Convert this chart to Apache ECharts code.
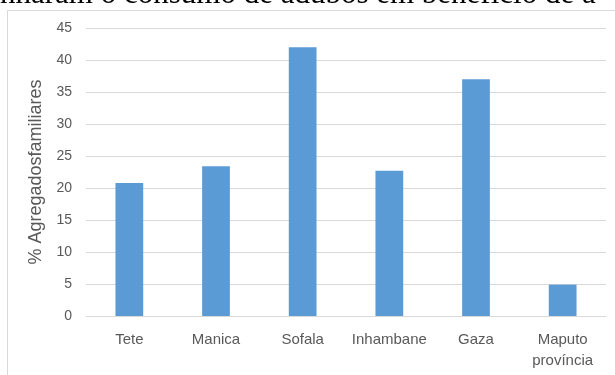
<!DOCTYPE html>
<html>
<head>
<meta charset="utf-8">
<style>
  html, body { margin: 0; padding: 0; background: #fff; }
  #chart { width: 615px; height: 375px; }
</style>
<script src="https://cdn.jsdelivr.net/npm/echarts@6/dist/echarts.min.js"></script>
</head>
<body>
<div id="chart"></div>
<script>
// Provinces and share of households (%)
const categories = ['Tete', 'Manica', 'Sofala', 'Inhambane', 'Gaza', 'Maputo\nprovíncia'];
const values = [20.8, 23.4, 42.0, 22.7, 37.0, 4.9];
const yTicks = { min: 0, max: 45, interval: 5 };
const yName = '% Agregadosfamiliares';
const headerText = 'nharam o consumo de adubos em benefício de a';

const textColor = '#595959';
const gridColor = '#D9D9D9';
const barColor = '#5B9BD5';

const chart = echarts.init(document.getElementById('chart'), null, { renderer: 'canvas' });

chart.setOption({
  animation: false,
  backgroundColor: '#ffffff',
  graphic: [
    {
      type: 'text',
      left: 0,
      top: -21,
      z: 10,
      style: {
        text: headerText,
        font: '31px "Liberation Serif", serif',
        fill: '#000000'
      }
    },
    {
      type: 'rect',
      shape: { x: 7.5, y: 10.5, width: 700, height: 500 },
      style: { fill: 'none', stroke: gridColor, lineWidth: 1 },
      silent: true
    }
  ],
  grid: { left: 86, right: 9, top: 28, bottom: 59, containLabel: false },
  xAxis: {
    type: 'category',
    data: categories,
    axisLine: { show: true, lineStyle: { color: gridColor, width: 1 } },
    axisTick: { show: false },
    axisLabel: {
      color: textColor,
      fontFamily: '"Liberation Sans", Arial, sans-serif',
      fontSize: 15,
      lineHeight: 21,
      margin: 13,
      interval: 0
    }
  },
  yAxis: {
    type: 'value',
    min: yTicks.min,
    max: yTicks.max,
    interval: yTicks.interval,
    name: yName,
    nameLocation: 'middle',
    nameGap: 35,
    nameTextStyle: {
      color: textColor,
      fontFamily: '"Liberation Sans", Arial, sans-serif',
      fontSize: 18
    },
    axisLine: { show: false },
    axisTick: { show: false },
    axisLabel: {
      color: textColor,
      fontFamily: '"Liberation Sans", Arial, sans-serif',
      fontSize: 14,
      margin: 14
    },
    splitLine: { lineStyle: { color: gridColor, width: 1 } }
  },
  series: [
    {
      type: 'bar',
      data: values,
      barWidth: '32%',
      itemStyle: { color: barColor }
    }
  ]
});
</script>
</body>
</html>
